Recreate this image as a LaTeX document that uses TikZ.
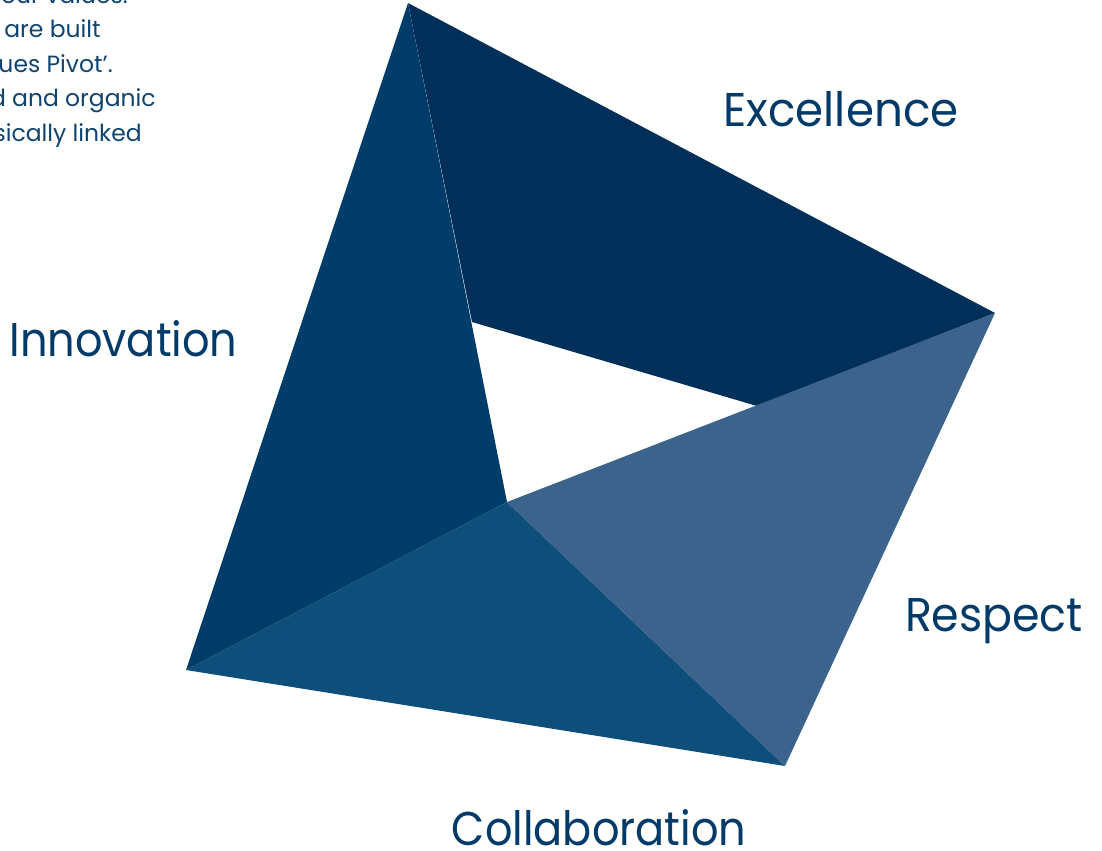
\documentclass[tikz,border=0pt]{standalone}
\usepackage{fontspec}
\setmainfont{Poppins}
\definecolor{txtblue}{HTML}{0F4470}
\definecolor{labblue}{HTML}{003A68}
\definecolor{exc}{HTML}{002F59}
\definecolor{inn}{HTML}{003C69}
\definecolor{col}{HTML}{0E4E7B}
\definecolor{res}{HTML}{3C638B}
\tikzset{
  facet/.style={draw=none},
  biglab/.style={inner sep=0pt,text=labblue,anchor=base,
    font=\fontsize{35.5pt}{40pt}\selectfont\addfontfeatures{FakeStretch=#1}},
  para/.style={inner sep=0pt,text=txtblue,font=\fontsize{17.6pt}{20pt}\selectfont,anchor=base east}
}
\begin{document}
\begin{tikzpicture}[x=0.75pt,y=-0.75pt]
\useasboundingbox (0,0) rectangle (1102,850);
\clip (0,0) rectangle (1102,850);
\coordinate (T) at (408,3);
\coordinate (R) at (995,313);
\coordinate (B) at (785,766);
\coordinate (L) at (186,670);
\coordinate (C) at (507,502);
\coordinate (E) at (472,322);
\coordinate (F) at (757,406);
\fill[facet,exc] (T) -- (R) -- (F) -- (E) -- cycle;
\fill[facet,inn] (T) -- (C) -- (L) -- cycle;
\fill[facet,col] (C) -- (B) -- (L) -- cycle;
\fill[facet,res] (R) -- (B) -- (C) -- cycle;
\node[biglab=0.955] (excl) at (841,126) {Excellence};
\node[biglab=0.91] (innov) at (123.5,356) {Innovation};
\node[biglab=0.936] (resp) at (994,631) {Respect};
\node[biglab=0.91] (coll) at (599,845) {Collaboration};
\node[para] (p0) at (128,3) {our values.};
\node[para] (p1) at (101,37) {are built};
\node[para] (p2) at (113,72) {ues Pivot’.};
\node[para] (p3) at (156,106) {d and organic};
\node[para] (p4) at (142,141) {sically linked};
\end{tikzpicture}
\end{document}
